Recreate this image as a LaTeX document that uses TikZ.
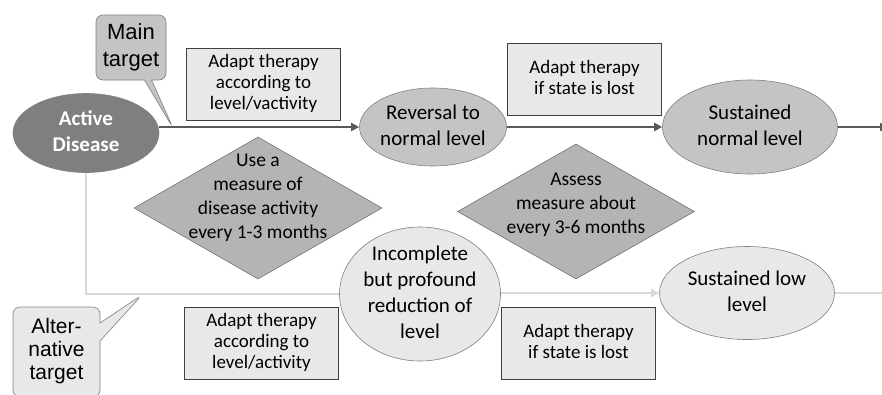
\documentclass[tikz,border=0pt]{standalone}
\usepackage{fontspec}
\setmainfont{Carlito}
\newfontfamily\calloutfont{Liberation Sans}
\usetikzlibrary{shapes.geometric, shapes.callouts, arrows.meta, calc}
\definecolor{darkfill}{HTML}{7F7F7F}
\definecolor{midfill}{HTML}{C4C4C4}
\definecolor{diamfill}{HTML}{B4B4B4}
\definecolor{lightfill}{HTML}{E8E8E8}
\definecolor{edgegray}{HTML}{808080}
\definecolor{mainarrow}{HTML}{595959}
\definecolor{altarrow}{HTML}{D9D9D9}
% centred text that does not change the size of its node
\newcommand{\ctext}[2][0pt]{\raisebox{\dimexpr#1-.25em\relax}[0pt][0pt]{\makebox[0pt]{\begin{tabular}{@{}c@{}}#2\end{tabular}}}}
\tikzset{
	state/.style={ellipse, draw=edgegray, line width=.6pt, fill=midfill, inner sep=0pt, font=\fontsize{21}{26}\selectfont},
	startstate/.style={state, draw=darkfill, fill=darkfill, text=white, font=\fontsize{21}{26}\selectfont\bfseries},
	altstate/.style={state, fill=lightfill},
	therapy/.style={rectangle, draw=black!75, line width=.6pt, fill=lightfill, inner sep=0pt, minimum width=154pt, minimum height=72pt, font=\fontsize{19}{21}\selectfont},
	measure/.style={diamond, draw=black!55, line width=.6pt, fill=diamfill, inner sep=0pt, font=\fontsize{19.5}{24}\selectfont},
	target/.style={rectangle callout, rounded corners=7pt, draw=edgegray, line width=.6pt, inner sep=0pt, font=\calloutfont},
	mainline/.style={draw=mainarrow, line width=2.6pt, -{Triangle[length=8pt,width=8pt]}},
	altline/.style={draw=altarrow, line width=2.6pt, -{Triangle[length=8pt,width=8pt]}}
}

\begin{document}
\begin{tikzpicture}[x=1pt, y=-1pt]
	\useasboundingbox (0,0) rectangle (882,394);
		% states
		\node[startstate, minimum width=146pt, minimum height=79pt] (active) at (86,133) {\ctext{Active\\Disease}};
		\node[state, minimum width=147pt, minimum height=78pt] (reversal) at (433,127) {\ctext{Reversal to\\normal level}};
		\node[state, minimum width=175pt, minimum height=94pt] (sustnormal) at (750,127) {\ctext{Sustained\\normal level}};
		\node[altstate, minimum width=161pt, minimum height=134pt] (incomplete) at (420,294) {\ctext{Incomplete\\but profound\\reduction of\\level}};
		\node[altstate, minimum width=175pt, minimum height=93pt] (sustlow) at (747,293) {\ctext{Sustained low\\level}};
		% therapy boxes
		\node[therapy] (adapt1) at (263.5,84) {\ctext{Adapt therapy\\according to\\level/vactivity}};
		\node[therapy] (adapt2) at (584.5,79.5) {\ctext{Adapt therapy\\if state is lost}};
		\node[therapy] (adapt3) at (261.5,343) {\ctext{Adapt therapy\\according to\\level/activity}};
		\node[therapy] (adapt4) at (578.5,343) {\ctext{Adapt therapy\\if state is lost}};
		% measurements
		\node[measure, minimum width=248pt, minimum height=142pt] (measure1) at (258,208) {\ctext[10pt]{Use a\\measure of\\disease activity\\every 1-3 months}};
		\node[measure, minimum width=237pt, minimum height=135pt] (measure2) at (576,211.5) {\ctext[6pt]{Assess\\measure about\\every 3-6 months}};
		% main path
		\coordinate (exittop) at (888,127);
		\draw[mainline] (active.east |- reversal.west) -- (reversal.west);
		\draw[mainline] (reversal.east) -- (sustnormal.west);
		\draw[mainline] (sustnormal.east) -- (exittop);
		% alternative path
		\coordinate (exitlow) at (886,293);
		\draw[altline, -] (active.south) |- (incomplete.west);
		\draw[altline] (incomplete.east |- sustlow.west) -- (sustlow.west);
		\draw[altline, -] (sustlow.east) -- (exitlow);
		% targets
		\coordinate (maintip) at (173,128);
		\coordinate (alttip) at (142,295);
		\node[target, fill=midfill, minimum width=70pt, minimum height=65pt, callout absolute pointer={(maintip)}, font=\calloutfont\fontsize{22}{27}\selectfont] (maintarget) at (131,47.5) {\ctext{Main\\target}};
		\node[target, fill=lightfill, minimum width=87pt, minimum height=90pt, callout absolute pointer={(alttip)}, callout pointer width=18pt, font=\calloutfont\fontsize{21}{23}\selectfont] (alttarget) at (56.5,352) {\ctext{Alter-\\native\\target}};
\end{tikzpicture}
\end{document}
